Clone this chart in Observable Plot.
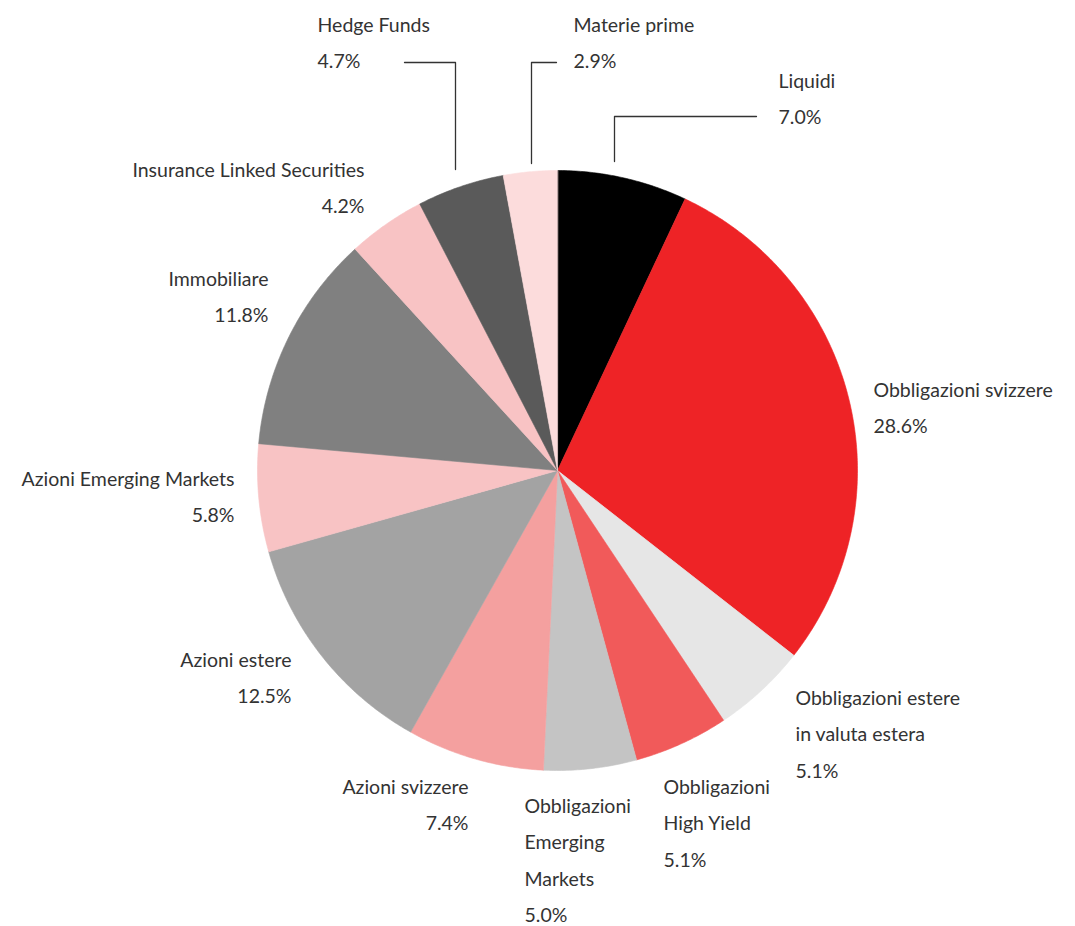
<!DOCTYPE html>
<html><head><meta charset="utf-8">
<script src="https://cdn.jsdelivr.net/npm/d3@7"></script>
<script src="https://cdn.jsdelivr.net/npm/@observablehq/plot@0.6"></script>
<style>body{margin:0;background:#fff}</style>
</head><body><div id="chart"></div>
<script>
// ---- data ----
const categories = [
  "Liquidi", "Obbligazioni svizzere", "Obbligazioni estere in valuta estera",
  "Obbligazioni High Yield", "Obbligazioni Emerging Markets", "Azioni svizzere",
  "Azioni estere", "Azioni Emerging Markets", "Immobiliare",
  "Insurance Linked Securities", "Hedge Funds", "Materie prime"
];
const values = [7.0, 28.6, 5.1, 5.1, 5.0, 7.4, 12.5, 5.8, 11.8, 4.2, 4.7, 2.9];
const labelNames = [
  "Liquidi", "Obbligazioni svizzere", "Obbligazioni estere\nin valuta estera",
  "Obbligazioni\nHigh Yield", "Obbligazioni\nEmerging\nMarkets", "Azioni svizzere",
  "Azioni estere", "Azioni Emerging Markets", "Immobiliare",
  "Insurance Linked Securities", "Hedge Funds", "Materie prime"
];
const colors = ["#000000", "#ee2326", "#e6e6e6", "#f15a5a", "#c4c4c4", "#f4a09f",
  "#a3a3a3", "#f8c3c4", "#808080", "#f8c3c4", "#5a5a5a", "#fcdcdc"];

// ---- layout (pixels) ----
const W = 1075, H = 926;
const cx = 557, cy = 470, R = 300;
const labelLayout = [
  {x: 778, base: 88, anchor: "start"},
  {x: 873, base: 397, anchor: "start"},
  {x: 795, base: 705, anchor: "start"},
  {x: 663, base: 794, anchor: "start"},
  {x: 524, base: 813, anchor: "start"},
  {x: 468, base: 794, anchor: "end"},
  {x: 291, base: 667, anchor: "end"},
  {x: 234, base: 486, anchor: "end"},
  {x: 268, base: 286, anchor: "end"},
  {x: 364, base: 177, anchor: "end"},
  {x: 317, base: 32, anchor: "start"},
  {x: 573, base: 32, anchor: "start"}
];
const leaders = [
  {name: "Hedge Funds", pts: [[404, 62], [455, 62], [455, 169]]},
  {name: "Materie prime", pts: [[556, 62], [531, 62], [531, 163]]},
  {name: "Liquidi", pts: [[756, 116], [614, 116], [614, 161]]}
];
const fontSize = 19.5, lineGap = 36.5, topOffset = 26.5;

// ---- build pie geometry from values ----
const arcs = d3.pie().sort(null).value(d => d)(values);
const slicePts = [];
arcs.forEach((a, i) => {
  const name = categories[i];
  slicePts.push({name, x: cx, y: cy});
  const n = Math.max(2, Math.ceil((a.endAngle - a.startAngle) / (Math.PI / 360)));
  for (let k = 0; k <= n; k++) {
    const t = a.startAngle + (a.endAngle - a.startAngle) * k / n;
    slicePts.push({name, x: cx + R * Math.sin(t), y: cy - R * Math.cos(t)});
  }
});

const labelRows = categories.map((c, i) => ({
  text: labelNames[i] + "\n" + values[i].toFixed(1) + "%",
  x: labelLayout[i].x,
  y: labelLayout[i].base - topOffset,
  anchor: labelLayout[i].anchor
}));
const leaderPts = leaders.flatMap(l => l.pts.map(p => ({name: l.name, x: p[0], y: p[1]})));

const chart = Plot.plot({
  width: W, height: H,
  margin: 0,
  x: {domain: [0, W], range: [0, W], axis: null},
  y: {domain: [0, H], range: [0, H], axis: null},
  color: {domain: categories, range: colors},
  style: {background: "#fff"},
  marks: [
    Plot.line(slicePts, {x: "x", y: "y", z: "name", fill: "name", stroke: "name", strokeWidth: 0.6, curve: "linear-closed"}),
    Plot.line(leaderPts, {x: "x", y: "y", z: "name", stroke: "#333", strokeWidth: 1.3}),
    ...["start", "end"].map(anc => Plot.text(labelRows.filter(d => d.anchor === anc), {
      x: "x", y: "y", text: "text", textAnchor: anc, lineAnchor: "top",
      lineHeight: lineGap / fontSize, fontSize, fill: "#333",
      fontFamily: "Lato, 'Noto Sans', sans-serif"
    }))
  ]
});
document.getElementById("chart").appendChild(chart);
</script>
</body></html>
